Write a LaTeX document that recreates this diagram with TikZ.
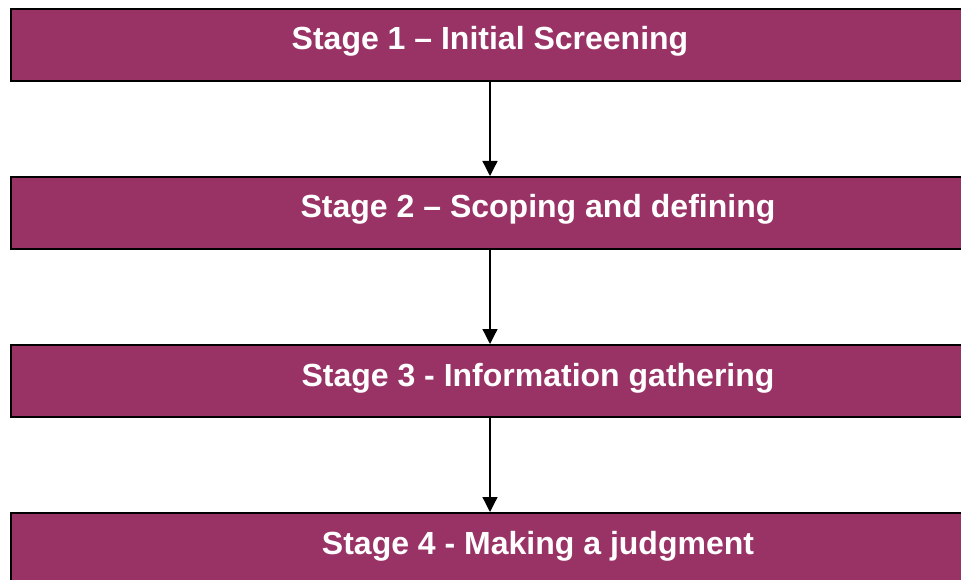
\documentclass[tikz,border=0pt]{standalone}
\usepackage{fontspec}
\setmainfont{Liberation Sans}
\usetikzlibrary{arrows.meta}
\definecolor{plum}{RGB}{153,51,102}
\begin{document}
\begin{tikzpicture}[x=1pt,y=1pt,
  stagebox/.style={draw=black, line width=2pt, fill=plum, inner sep=0pt,
    minimum width=990pt, minimum height=72pt, anchor=north west},
  stagetext/.style={text=white, font=\fontsize{32}{38}\selectfont\bfseries, anchor=base, inner sep=0pt},
  flowarrow/.style={line width=1.3pt, -{Triangle[width=15pt,length=15pt]}}]
\useasboundingbox (0,0) rectangle (961,-580);
\clip (0,0) rectangle (961,-580);
\coordinate (ax) at (490,0);
\node[stagebox] (b1) at (10,-8) {};
\node[stagebox] (b2) at (10,-176) {};
\node[stagebox] (b3) at (10,-344) {};
\node[stagebox] (b4) at (10,-512) {};
\node[stagetext] (t1) at (490,-50) {Stage 1 – Initial Screening};
\node[stagetext] (t2) at (538,-218) {Stage 2 – Scoping and defining};
\node[stagetext] (t3) at (538,-386) {Stage 3 - Information gathering};
\node[stagetext] (t4) at (538,-554) {Stage 4 - Making a judgment};
\draw[flowarrow] (b1.south -| ax) -- (b2.north -| ax);
\draw[flowarrow] (b2.south -| ax) -- (b3.north -| ax);
\draw[flowarrow] (b3.south -| ax) -- (b4.north -| ax);
\end{tikzpicture}
\end{document}
